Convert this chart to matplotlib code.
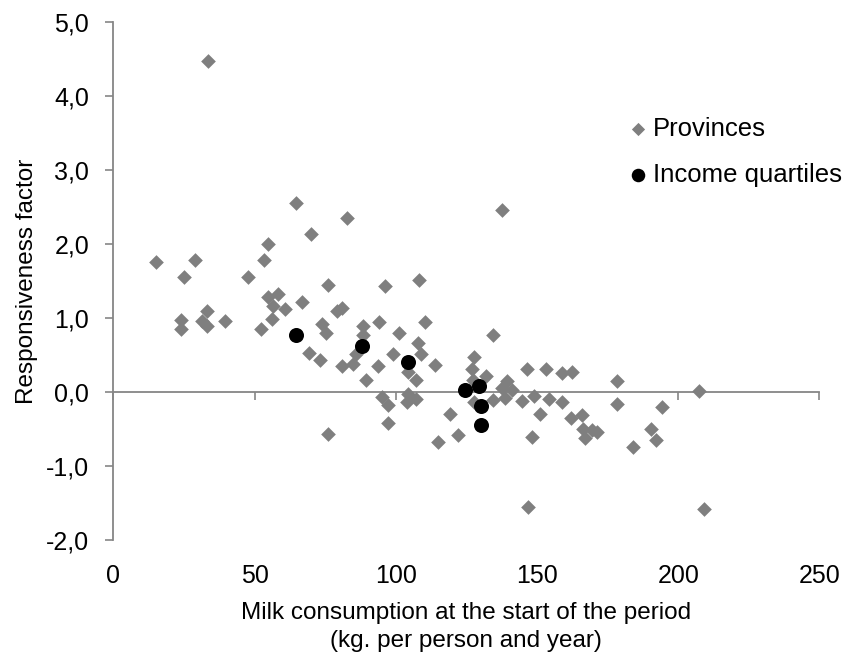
import matplotlib.pyplot as plt
from matplotlib.ticker import FuncFormatter, MultipleLocator

plt.rcParams['font.family'] = ['Liberation Sans', 'DejaVu Sans']

# provinces: milk consumption (kg/person/year) vs responsiveness factor
province_x = [15.0, 24.0, 24.0, 25.1, 28.8, 31.3, 33.1, 33.1, 33.6, 39.5,
              47.6, 52.2, 53.3, 54.9, 54.9, 56.1, 56.6, 58.4, 60.8, 64.6,
              66.7, 69.4, 69.9, 73.2, 73.8, 75.2, 75.9, 75.9, 79.3, 80.8,
              80.8, 82.6, 84.7, 86.0, 88.3, 88.5, 89.6, 93.8, 94.0, 95.0,
              96.2, 97.3, 97.3, 99.0, 101.0, 104.3, 104.2, 103.8, 107.3, 107.3,
              107.7, 108.3, 109.0, 110.3, 113.9, 114.8, 119.3, 122.1, 127.8, 127.0,
              127.4, 127.8, 132.0, 134.4, 134.5, 137.5, 137.7, 138.7, 139.3, 141.0,
              144.8, 146.3, 146.9, 148.3, 148.9, 151.0, 153.3, 154.2, 158.7, 158.7,
              162.5, 162.0, 165.8, 166.2, 167.0, 169.3, 171.1, 178.4, 178.4, 184.1,
              190.2, 192.0, 194.3, 207.3, 209.1]
province_y = [1.76, 0.98, 0.86, 1.56, 1.78, 0.96, 0.89, 1.10, 4.47, 0.96,
              1.56, 0.85, 1.78, 2.00, 1.28, 0.99, 1.17, 1.33, 1.13, 2.55,
              1.22, 0.53, 2.13, 0.44, 0.92, 0.80, 1.45, -0.56, 1.10, 1.14,
              0.35, 2.35, 0.38, 0.52, 0.89, 0.77, 0.16, 0.35, 0.95, -0.06,
              1.43, -0.17, -0.42, 0.51, 0.80, 0.28, -0.03, -0.13, -0.09, 0.17,
              0.67, 1.52, 0.52, 0.95, 0.37, -0.67, -0.30, -0.58, 0.48, 0.32,
              0.16, -0.13, 0.22, 0.77, -0.10, 0.06, 2.46, -0.08, 0.15, 0.03,
              -0.12, 0.31, -1.55, -0.61, -0.05, -0.29, 0.31, -0.09, 0.26, -0.13,
              0.27, -0.35, -0.31, -0.49, -0.62, -0.51, -0.53, 0.15, -0.16, -0.74,
              -0.50, -0.65, -0.20, 0.02, -1.58]

# income quartiles
quartile_x = [64.6, 87.9, 104.2, 124.5, 129.6, 130.2, 130.0]
quartile_y = [0.77, 0.63, 0.41, 0.03, 0.08, -0.19, -0.44]

axis_grey = '#868686'
marker_grey = '#7f7f7f'

fig = plt.figure(figsize=(8.45, 6.58), dpi=100)
ax = fig.add_axes([0.1341, 0.1786, 0.8357, 0.7884])

ax.scatter(province_x, province_y, marker='D', s=56, color=marker_grey,
           linewidths=0, zorder=3, label='Provinces')
ax.scatter(quartile_x, quartile_y, marker='o', s=117, color='black',
           linewidths=0, zorder=4, label='Income quartiles')

ax.set_xlim(0, 250)
ax.set_ylim(-2, 5)
ax.xaxis.set_major_locator(MultipleLocator(50))
ax.yaxis.set_major_locator(MultipleLocator(1))
ax.yaxis.set_major_formatter(FuncFormatter(lambda v, p: f'{v:.1f}'.replace('.', ',')))

for side in ['top', 'right', 'bottom']:
    ax.spines[side].set_visible(False)
ax.spines['left'].set_color(axis_grey)
ax.spines['left'].set_linewidth(1.3)
ax.tick_params(axis='y', direction='out', length=5.5, width=1.2,
               color=axis_grey, pad=12, labelsize=18)
ax.tick_params(axis='x', length=0, pad=17, labelsize=18)

# horizontal axis line crossing at y = 0
zero_axis = ax.secondary_xaxis(2 / 7)
zero_axis.xaxis.set_major_locator(MultipleLocator(50))
zero_axis.spines['bottom'].set_color(axis_grey)
zero_axis.spines['bottom'].set_linewidth(1.3)
zero_axis.tick_params(axis='x', direction='out', length=5.4, width=1.2,
                      color=axis_grey, labelbottom=False, labeltop=False)

ax.set_xlabel('Milk consumption at the start of the period\n(kg. per person and year)',
              fontsize=17.5, labelpad=10, linespacing=1.35)
ax.set_ylabel('Responsiveness factor', fontsize=17.5, labelpad=6)

ax.legend(loc='upper left', bbox_to_anchor=(0.748, 0.822),
          bbox_transform=fig.transFigure, frameon=False, fontsize=18.5,
          handlelength=0.5, handletextpad=0.3, labelspacing=0.86,
          borderpad=0, borderaxespad=0, markerscale=0.9)

fig.savefig('out.png', dpi=100)
